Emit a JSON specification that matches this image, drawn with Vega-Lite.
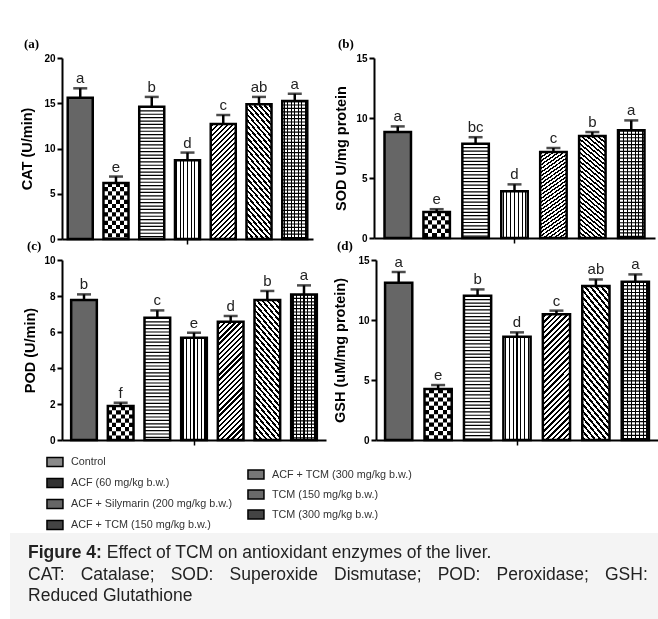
{
  "$schema": "https://vega.github.io/schema/vega-lite/v6.json",
  "padding": {"left": 10, "top": 38, "right": 0, "bottom": 0},
  "background": "#ffffff",
  "params": [
    {"name": "pV", "value": {"gradient": "linear", "x1": 0, "y1": 0, "x2": 1, "y2": 0, "stops": [
      {"offset": 0, "color": "rgba(0,0,0,0)"},
      {"offset": 0.0514, "color": "rgba(0,0,0,0)"}, {"offset": 0.0514, "color": "#000"}, {"offset": 0.0914, "color": "#000"}, {"offset": 0.0914, "color": "rgba(0,0,0,0)"},
      {"offset": 0.1943, "color": "rgba(0,0,0,0)"}, {"offset": 0.1943, "color": "#000"}, {"offset": 0.2343, "color": "#000"}, {"offset": 0.2343, "color": "rgba(0,0,0,0)"},
      {"offset": 0.3371, "color": "rgba(0,0,0,0)"}, {"offset": 0.3371, "color": "#000"}, {"offset": 0.3771, "color": "#000"}, {"offset": 0.3771, "color": "rgba(0,0,0,0)"},
      {"offset": 0.48, "color": "rgba(0,0,0,0)"}, {"offset": 0.48, "color": "#000"}, {"offset": 0.52, "color": "#000"}, {"offset": 0.52, "color": "rgba(0,0,0,0)"},
      {"offset": 0.6229, "color": "rgba(0,0,0,0)"}, {"offset": 0.6229, "color": "#000"}, {"offset": 0.6629, "color": "#000"}, {"offset": 0.6629, "color": "rgba(0,0,0,0)"},
      {"offset": 0.7657, "color": "rgba(0,0,0,0)"}, {"offset": 0.7657, "color": "#000"}, {"offset": 0.8057, "color": "#000"}, {"offset": 0.8057, "color": "rgba(0,0,0,0)"},
      {"offset": 0.9086, "color": "rgba(0,0,0,0)"}, {"offset": 0.9086, "color": "#000"}, {"offset": 0.9486, "color": "#000"}, {"offset": 0.9486, "color": "rgba(0,0,0,0)"},
      {"offset": 1, "color": "rgba(0,0,0,0)"}
    ]}},
    {"name": "pC", "value": {"gradient": "linear", "x1": 0, "y1": 0, "x2": 1, "y2": 0, "stops": [
      {"offset": 0, "color": "#fff"}, {"offset": 0.1667, "color": "#fff"}, {"offset": 0.1667, "color": "rgba(0,0,0,0)"}, {"offset": 0.3333, "color": "rgba(0,0,0,0)"},
      {"offset": 0.3333, "color": "#fff"}, {"offset": 0.5, "color": "#fff"}, {"offset": 0.5, "color": "rgba(0,0,0,0)"}, {"offset": 0.6667, "color": "rgba(0,0,0,0)"},
      {"offset": 0.6667, "color": "#fff"}, {"offset": 0.8333, "color": "#fff"}, {"offset": 0.8333, "color": "rgba(0,0,0,0)"}, {"offset": 1, "color": "rgba(0,0,0,0)"}
    ]}},
    {"name": "pD1", "value": {"gradient": "linear", "x1": 0, "y1": 0, "x2": 0.252, "y2": 1.162, "stops": [
      {"offset": 0, "color": "rgba(0,0,0,0)"},
      {"offset": 0.0128, "color": "rgba(0,0,0,0)"}, {"offset": 0.0128, "color": "#000"}, {"offset": 0.0288, "color": "#000"}, {"offset": 0.0288, "color": "rgba(0,0,0,0)"},
      {"offset": 0.0485, "color": "rgba(0,0,0,0)"}, {"offset": 0.0485, "color": "#000"}, {"offset": 0.0645, "color": "#000"}, {"offset": 0.0645, "color": "rgba(0,0,0,0)"},
      {"offset": 0.0842, "color": "rgba(0,0,0,0)"}, {"offset": 0.0842, "color": "#000"}, {"offset": 0.1002, "color": "#000"}, {"offset": 0.1002, "color": "rgba(0,0,0,0)"},
      {"offset": 0.1199, "color": "rgba(0,0,0,0)"}, {"offset": 0.1199, "color": "#000"}, {"offset": 0.1359, "color": "#000"}, {"offset": 0.1359, "color": "rgba(0,0,0,0)"},
      {"offset": 0.1557, "color": "rgba(0,0,0,0)"}, {"offset": 0.1557, "color": "#000"}, {"offset": 0.1717, "color": "#000"}, {"offset": 0.1717, "color": "rgba(0,0,0,0)"},
      {"offset": 0.1914, "color": "rgba(0,0,0,0)"}, {"offset": 0.1914, "color": "#000"}, {"offset": 0.2074, "color": "#000"}, {"offset": 0.2074, "color": "rgba(0,0,0,0)"},
      {"offset": 0.2271, "color": "rgba(0,0,0,0)"}, {"offset": 0.2271, "color": "#000"}, {"offset": 0.2431, "color": "#000"}, {"offset": 0.2431, "color": "rgba(0,0,0,0)"},
      {"offset": 0.2628, "color": "rgba(0,0,0,0)"}, {"offset": 0.2628, "color": "#000"}, {"offset": 0.2788, "color": "#000"}, {"offset": 0.2788, "color": "rgba(0,0,0,0)"},
      {"offset": 0.2985, "color": "rgba(0,0,0,0)"}, {"offset": 0.2985, "color": "#000"}, {"offset": 0.3145, "color": "#000"}, {"offset": 0.3145, "color": "rgba(0,0,0,0)"},
      {"offset": 0.3342, "color": "rgba(0,0,0,0)"}, {"offset": 0.3342, "color": "#000"}, {"offset": 0.3502, "color": "#000"}, {"offset": 0.3502, "color": "rgba(0,0,0,0)"},
      {"offset": 0.3699, "color": "rgba(0,0,0,0)"}, {"offset": 0.3699, "color": "#000"}, {"offset": 0.3859, "color": "#000"}, {"offset": 0.3859, "color": "rgba(0,0,0,0)"},
      {"offset": 0.4057, "color": "rgba(0,0,0,0)"}, {"offset": 0.4057, "color": "#000"}, {"offset": 0.4217, "color": "#000"}, {"offset": 0.4217, "color": "rgba(0,0,0,0)"},
      {"offset": 0.4414, "color": "rgba(0,0,0,0)"}, {"offset": 0.4414, "color": "#000"}, {"offset": 0.4574, "color": "#000"}, {"offset": 0.4574, "color": "rgba(0,0,0,0)"},
      {"offset": 0.4771, "color": "rgba(0,0,0,0)"}, {"offset": 0.4771, "color": "#000"}, {"offset": 0.4931, "color": "#000"}, {"offset": 0.4931, "color": "rgba(0,0,0,0)"},
      {"offset": 0.5128, "color": "rgba(0,0,0,0)"}, {"offset": 0.5128, "color": "#000"}, {"offset": 0.5288, "color": "#000"}, {"offset": 0.5288, "color": "rgba(0,0,0,0)"},
      {"offset": 0.5485, "color": "rgba(0,0,0,0)"}, {"offset": 0.5485, "color": "#000"}, {"offset": 0.5645, "color": "#000"}, {"offset": 0.5645, "color": "rgba(0,0,0,0)"},
      {"offset": 0.5842, "color": "rgba(0,0,0,0)"}, {"offset": 0.5842, "color": "#000"}, {"offset": 0.6002, "color": "#000"}, {"offset": 0.6002, "color": "rgba(0,0,0,0)"},
      {"offset": 0.6199, "color": "rgba(0,0,0,0)"}, {"offset": 0.6199, "color": "#000"}, {"offset": 0.6359, "color": "#000"}, {"offset": 0.6359, "color": "rgba(0,0,0,0)"},
      {"offset": 0.6557, "color": "rgba(0,0,0,0)"}, {"offset": 0.6557, "color": "#000"}, {"offset": 0.6717, "color": "#000"}, {"offset": 0.6717, "color": "rgba(0,0,0,0)"},
      {"offset": 0.6914, "color": "rgba(0,0,0,0)"}, {"offset": 0.6914, "color": "#000"}, {"offset": 0.7074, "color": "#000"}, {"offset": 0.7074, "color": "rgba(0,0,0,0)"},
      {"offset": 0.7271, "color": "rgba(0,0,0,0)"}, {"offset": 0.7271, "color": "#000"}, {"offset": 0.7431, "color": "#000"}, {"offset": 0.7431, "color": "rgba(0,0,0,0)"},
      {"offset": 0.7628, "color": "rgba(0,0,0,0)"}, {"offset": 0.7628, "color": "#000"}, {"offset": 0.7788, "color": "#000"}, {"offset": 0.7788, "color": "rgba(0,0,0,0)"},
      {"offset": 0.7985, "color": "rgba(0,0,0,0)"}, {"offset": 0.7985, "color": "#000"}, {"offset": 0.8145, "color": "#000"}, {"offset": 0.8145, "color": "rgba(0,0,0,0)"},
      {"offset": 0.8342, "color": "rgba(0,0,0,0)"}, {"offset": 0.8342, "color": "#000"}, {"offset": 0.8502, "color": "#000"}, {"offset": 0.8502, "color": "rgba(0,0,0,0)"},
      {"offset": 0.8699, "color": "rgba(0,0,0,0)"}, {"offset": 0.8699, "color": "#000"}, {"offset": 0.8859, "color": "#000"}, {"offset": 0.8859, "color": "rgba(0,0,0,0)"},
      {"offset": 0.9057, "color": "rgba(0,0,0,0)"}, {"offset": 0.9057, "color": "#000"}, {"offset": 0.9217, "color": "#000"}, {"offset": 0.9217, "color": "rgba(0,0,0,0)"},
      {"offset": 0.9414, "color": "rgba(0,0,0,0)"}, {"offset": 0.9414, "color": "#000"}, {"offset": 0.9574, "color": "#000"}, {"offset": 0.9574, "color": "rgba(0,0,0,0)"},
      {"offset": 0.9771, "color": "rgba(0,0,0,0)"}, {"offset": 0.9771, "color": "#000"}, {"offset": 0.9931, "color": "#000"}, {"offset": 0.9931, "color": "rgba(0,0,0,0)"},
      {"offset": 1, "color": "rgba(0,0,0,0)"}
    ]}},
    {"name": "pD2", "expr": "{gradient: 'linear', x1: 1, y1: 0, x2: 0.748, y2: 1.162, stops: pD1.stops}"}
  ],
  "datasets": {
    "main": [
      {"p": "CAT", "k": 1, "group": "Control", "mean": 15.6, "upper": 16.65, "letter": "a"},
      {"p": "CAT", "k": 2, "group": "ACF (60 mg/kg b.w.)", "mean": 6.2, "upper": 6.9, "letter": "e"},
      {"p": "CAT", "k": 3, "group": "ACF + Silymarin (200 mg/kg b.w.)", "mean": 14.6, "upper": 15.7, "letter": "b"},
      {"p": "CAT", "k": 4, "group": "ACF + TCM (150 mg/kg b.w.)", "mean": 8.7, "upper": 9.55, "letter": "d"},
      {"p": "CAT", "k": 5, "group": "ACF + TCM (300 mg/kg b.w.)", "mean": 12.7, "upper": 13.7, "letter": "c"},
      {"p": "CAT", "k": 6, "group": "TCM (150 mg/kg b.w.)", "mean": 14.9, "upper": 15.7, "letter": "ab"},
      {"p": "CAT", "k": 7, "group": "TCM (300 mg/kg b.w.)", "mean": 15.25, "upper": 16.05, "letter": "a"},
      {"p": "SOD", "k": 1, "group": "Control", "mean": 8.83, "upper": 9.3, "letter": "a"},
      {"p": "SOD", "k": 2, "group": "ACF (60 mg/kg b.w.)", "mean": 2.17, "upper": 2.4, "letter": "e"},
      {"p": "SOD", "k": 3, "group": "ACF + Silymarin (200 mg/kg b.w.)", "mean": 7.86, "upper": 8.4, "letter": "bc"},
      {"p": "SOD", "k": 4, "group": "ACF + TCM (150 mg/kg b.w.)", "mean": 3.9, "upper": 4.47, "letter": "d"},
      {"p": "SOD", "k": 5, "group": "ACF + TCM (300 mg/kg b.w.)", "mean": 7.17, "upper": 7.5, "letter": "c"},
      {"p": "SOD", "k": 6, "group": "TCM (150 mg/kg b.w.)", "mean": 8.5, "upper": 8.83, "letter": "b"},
      {"p": "SOD", "k": 7, "group": "TCM (300 mg/kg b.w.)", "mean": 8.97, "upper": 9.8, "letter": "a"},
      {"p": "POD", "k": 1, "group": "Control", "mean": 7.78, "upper": 8.09, "letter": "b"},
      {"p": "POD", "k": 2, "group": "ACF (60 mg/kg b.w.)", "mean": 1.89, "upper": 2.07, "letter": "f"},
      {"p": "POD", "k": 3, "group": "ACF + Silymarin (200 mg/kg b.w.)", "mean": 6.79, "upper": 7.2, "letter": "c"},
      {"p": "POD", "k": 4, "group": "ACF + TCM (150 mg/kg b.w.)", "mean": 5.68, "upper": 5.96, "letter": "e"},
      {"p": "POD", "k": 5, "group": "ACF + TCM (300 mg/kg b.w.)", "mean": 6.57, "upper": 6.89, "letter": "d"},
      {"p": "POD", "k": 6, "group": "TCM (150 mg/kg b.w.)", "mean": 7.78, "upper": 8.28, "letter": "b"},
      {"p": "POD", "k": 7, "group": "TCM (300 mg/kg b.w.)", "mean": 8.09, "upper": 8.59, "letter": "a"},
      {"p": "GSH", "k": 1, "group": "Control", "mean": 13.1, "upper": 14.0, "letter": "a"},
      {"p": "GSH", "k": 2, "group": "ACF (60 mg/kg b.w.)", "mean": 4.25, "upper": 4.58, "letter": "e"},
      {"p": "GSH", "k": 3, "group": "ACF + Silymarin (200 mg/kg b.w.)", "mean": 12.03, "upper": 12.55, "letter": "b"},
      {"p": "GSH", "k": 4, "group": "ACF + TCM (150 mg/kg b.w.)", "mean": 8.6, "upper": 8.97, "letter": "d"},
      {"p": "GSH", "k": 5, "group": "ACF + TCM (300 mg/kg b.w.)", "mean": 10.47, "upper": 10.78, "letter": "c"},
      {"p": "GSH", "k": 6, "group": "TCM (150 mg/kg b.w.)", "mean": 12.83, "upper": 13.38, "letter": "ab"},
      {"p": "GSH", "k": 7, "group": "TCM (300 mg/kg b.w.)", "mean": 13.19, "upper": 13.8, "letter": "a"}
    ],
    "groups": [
      {"k": 1, "col": 1, "group": "Control"},
      {"k": 2, "col": 1, "group": "ACF (60 mg/kg b.w.)"},
      {"k": 3, "col": 1, "group": "ACF + Silymarin (200 mg/kg b.w.)"},
      {"k": 4, "col": 1, "group": "ACF + TCM (150 mg/kg b.w.)"},
      {"k": 5, "col": 2, "group": "ACF + TCM (300 mg/kg b.w.)"},
      {"k": 6, "col": 2, "group": "TCM (150 mg/kg b.w.)"},
      {"k": 7, "col": 2, "group": "TCM (300 mg/kg b.w.)"}
    ],
    "caption": [
      {"line": 1, "bold": true, "text": "Figure 4:"},
      {"line": 1, "bold": false, "text": "Effect of TCM on antioxidant enzymes of the liver."},
      {"line": 2, "bold": false, "text": "CAT: \u00a0\u00a0\u200aCatalase; \u00a0\u00a0\u200aSOD: \u00a0\u00a0\u200aSuperoxide \u00a0\u00a0\u200aDismutase; \u00a0\u00a0\u200aPOD: \u00a0\u00a0\u200aPeroxidase; \u00a0\u00a0\u200aGSH:"},
      {"line": 3, "bold": false, "text": "Reduced Glutathione"}
    ]
  },
  "spacing": 0,
  "vconcat": [
    {
      "spacing": -13,
      "vconcat": [
        {
          "spacing": 20,
          "hconcat": [
            {
              "width": 251, "height": 181,
              "title": {"text": "(a)"},
              "data": {"name": "main"},
              "transform": [{"filter": "datum.p === 'CAT'"}],
              "encoding": {
                "x": {"field": "group", "type": "nominal", "sort": null, "scale": {"paddingInner": 0.3, "paddingOuter": 0.16}, "axis": {"values": ["ACF + TCM (150 mg/kg b.w.)"], "labels": false, "title": null, "tickWidth": 1.5}},
                "y": {"field": "mean", "type": "quantitative", "scale": {"domain": [0, 20], "nice": false}, "axis": {"values": [0, 5, 10, 15, 20], "title": "CAT (U/min)", "titlePadding": 9}}
              },
              "layer": [
                {"mark": {"type": "bar", "strokeWidth": 0}, "encoding": {"fill": {"field": "k", "type": "nominal", "scale": {"domain": [1, 2, 3, 4, 5, 6, 7], "range": ["#666666", "#ffffff", "#ffffff", "#ffffff", "#ffffff", "#ffffff", "#ffffff"]}, "legend": null}}},
                {"transform": [{"filter": "datum.k === 3 || datum.k === 7"}], "mark": {"type": "rule", "strokeWidth": 25, "strokeDash": [1.2, 2.2], "color": "#000"}, "encoding": {"y2": {"datum": 0}}},
                {"transform": [{"filter": "datum.k === 2"}], "mark": {"type": "rule", "strokeWidth": 25, "strokeDash": [4.2, 4.2], "color": "#000"}, "encoding": {"y2": {"datum": 0}}},
                {"transform": [{"filter": "datum.k === 2"}], "mark": {"type": "bar", "strokeWidth": 0, "fill": {"expr": "pC"}, "blend": "difference"}},
                {"transform": [{"filter": "datum.k === 4 || datum.k === 7"}], "mark": {"type": "bar", "strokeWidth": 0, "fill": {"expr": "pV"}}},
                {"transform": [{"filter": "datum.k === 5"}], "mark": {"type": "bar", "strokeWidth": 0, "fill": {"expr": "pD1"}}},
                {"transform": [{"filter": "datum.k === 6"}], "mark": {"type": "bar", "strokeWidth": 0, "fill": {"expr": "pD2"}}},
                {"mark": {"type": "bar", "fillOpacity": 0, "stroke": "#000", "strokeWidth": 2.5}},
                {"mark": {"type": "rule", "strokeWidth": 2.5, "color": "#000"}, "encoding": {"y2": {"field": "upper"}}},
                {"mark": {"type": "tick", "thickness": 2.5, "size": 14, "color": "#000"}, "encoding": {"y": {"field": "upper", "type": "quantitative", "axis": {"values": [0, 5, 10, 15, 20], "title": "CAT (U/min)", "titlePadding": 9}}}},
                {"mark": {"type": "text", "dy": -5, "baseline": "alphabetic", "fontSize": 15, "color": "#222"}, "encoding": {"y": {"field": "upper", "type": "quantitative", "axis": {"values": [0, 5, 10, 15, 20], "title": "CAT (U/min)", "titlePadding": 9}}, "text": {"field": "letter"}}}
              ]
            },
            {
              "width": 281, "height": 180,
              "title": {"text": "(b)"},
              "data": {"name": "main"},
              "transform": [{"filter": "datum.p === 'SOD'"}],
              "encoding": {
                "x": {"field": "group", "type": "nominal", "sort": null, "scale": {"paddingInner": 0.32, "paddingOuter": 0.27}, "axis": {"values": ["ACF + TCM (150 mg/kg b.w.)"], "labels": false, "title": null, "tickWidth": 1.5}},
                "y": {"field": "mean", "type": "quantitative", "scale": {"domain": [0, 15], "nice": false}, "axis": {"values": [0, 5, 10, 15], "title": "SOD U/mg protein", "titlePadding": 7}}
              },
              "layer": [
                {"mark": {"type": "bar", "strokeWidth": 0}, "encoding": {"fill": {"field": "k", "type": "nominal", "scale": {"domain": [1, 2, 3, 4, 5, 6, 7], "range": ["#666666", "#ffffff", "#ffffff", "#ffffff", "#ffffff", "#ffffff", "#ffffff"]}, "legend": null}}},
                {"transform": [{"filter": "datum.k === 3 || datum.k === 7"}], "mark": {"type": "rule", "strokeWidth": 26.5, "strokeDash": [1.2, 2.2], "color": "#000"}, "encoding": {"y2": {"datum": 0}}},
                {"transform": [{"filter": "datum.k === 2"}], "mark": {"type": "rule", "strokeWidth": 26.5, "strokeDash": [4.2, 4.2], "color": "#000"}, "encoding": {"y2": {"datum": 0}}},
                {"transform": [{"filter": "datum.k === 2"}], "mark": {"type": "bar", "strokeWidth": 0, "fill": {"expr": "pC"}, "blend": "difference"}},
                {"transform": [{"filter": "datum.k === 4 || datum.k === 7"}], "mark": {"type": "bar", "strokeWidth": 0, "fill": {"expr": "pV"}}},
                {"transform": [{"filter": "datum.k === 5"}], "mark": {"type": "bar", "strokeWidth": 0, "fill": {"expr": "pD1"}}},
                {"transform": [{"filter": "datum.k === 6"}], "mark": {"type": "bar", "strokeWidth": 0, "fill": {"expr": "pD2"}}},
                {"mark": {"type": "bar", "fillOpacity": 0, "stroke": "#000", "strokeWidth": 2.5}},
                {"mark": {"type": "rule", "strokeWidth": 2.5, "color": "#000"}, "encoding": {"y2": {"field": "upper"}}},
                {"mark": {"type": "tick", "thickness": 2.5, "size": 14, "color": "#000"}, "encoding": {"y": {"field": "upper", "type": "quantitative", "axis": {"values": [0, 5, 10, 15], "title": "SOD U/mg protein", "titlePadding": 7}}}},
                {"mark": {"type": "text", "dy": -5, "baseline": "alphabetic", "fontSize": 15, "color": "#222"}, "encoding": {"y": {"field": "upper", "type": "quantitative", "axis": {"values": [0, 5, 10, 15], "title": "SOD U/mg protein", "titlePadding": 7}}, "text": {"field": "letter"}}}
              ]
            }
          ]
        },
        {
          "spacing": 6,
          "hconcat": [
            {
              "width": 264, "height": 180,
              "title": {"text": "(c)"},
              "data": {"name": "main"},
              "transform": [{"filter": "datum.p === 'POD'"}],
              "encoding": {
                "x": {"field": "group", "type": "nominal", "sort": null, "scale": {"paddingInner": 0.3, "paddingOuter": 0.25}, "axis": {"values": ["ACF + TCM (150 mg/kg b.w.)"], "labels": false, "title": null, "tickWidth": 1.5}},
                "y": {"field": "mean", "type": "quantitative", "scale": {"domain": [0, 10], "nice": false}, "axis": {"values": [0, 2, 4, 6, 8, 10], "title": "POD (U/min)", "titlePadding": 6}}
              },
              "layer": [
                {"mark": {"type": "bar", "strokeWidth": 0}, "encoding": {"fill": {"field": "k", "type": "nominal", "scale": {"domain": [1, 2, 3, 4, 5, 6, 7], "range": ["#666666", "#ffffff", "#ffffff", "#ffffff", "#ffffff", "#ffffff", "#ffffff"]}, "legend": null}}},
                {"transform": [{"filter": "datum.k === 3 || datum.k === 7"}], "mark": {"type": "rule", "strokeWidth": 25.7, "strokeDash": [1.2, 2.2], "color": "#000"}, "encoding": {"y2": {"datum": 0}}},
                {"transform": [{"filter": "datum.k === 2"}], "mark": {"type": "rule", "strokeWidth": 25.7, "strokeDash": [4.2, 4.2], "color": "#000"}, "encoding": {"y2": {"datum": 0}}},
                {"transform": [{"filter": "datum.k === 2"}], "mark": {"type": "bar", "strokeWidth": 0, "fill": {"expr": "pC"}, "blend": "difference"}},
                {"transform": [{"filter": "datum.k === 4 || datum.k === 7"}], "mark": {"type": "bar", "strokeWidth": 0, "fill": {"expr": "pV"}}},
                {"transform": [{"filter": "datum.k === 5"}], "mark": {"type": "bar", "strokeWidth": 0, "fill": {"expr": "pD1"}}},
                {"transform": [{"filter": "datum.k === 6"}], "mark": {"type": "bar", "strokeWidth": 0, "fill": {"expr": "pD2"}}},
                {"mark": {"type": "bar", "fillOpacity": 0, "stroke": "#000", "strokeWidth": 2.5}},
                {"mark": {"type": "rule", "strokeWidth": 2.5, "color": "#000"}, "encoding": {"y2": {"field": "upper"}}},
                {"mark": {"type": "tick", "thickness": 2.5, "size": 14, "color": "#000"}, "encoding": {"y": {"field": "upper", "type": "quantitative", "axis": {"values": [0, 2, 4, 6, 8, 10], "title": "POD (U/min)", "titlePadding": 6}}}},
                {"mark": {"type": "text", "dy": -5, "baseline": "alphabetic", "fontSize": 15, "color": "#222"}, "encoding": {"y": {"field": "upper", "type": "quantitative", "axis": {"values": [0, 2, 4, 6, 8, 10], "title": "POD (U/min)", "titlePadding": 6}}, "text": {"field": "letter"}}}
              ]
            },
            {
              "width": 282, "height": 180,
              "title": {"text": "(d)"},
              "data": {"name": "main"},
              "transform": [{"filter": "datum.p === 'GSH'"}],
              "encoding": {
                "x": {"field": "group", "type": "nominal", "sort": null, "scale": {"paddingInner": 0.31, "paddingOuter": 0.23}, "axis": {"values": ["ACF + TCM (150 mg/kg b.w.)"], "labels": false, "title": null, "tickWidth": 1.5}},
                "y": {"field": "mean", "type": "quantitative", "scale": {"domain": [0, 15], "nice": false}, "axis": {"values": [0, 5, 10, 15], "title": "GSH (uM/mg protein)", "titlePadding": 10}}
              },
              "layer": [
                {"mark": {"type": "bar", "strokeWidth": 0}, "encoding": {"fill": {"field": "k", "type": "nominal", "scale": {"domain": [1, 2, 3, 4, 5, 6, 7], "range": ["#666666", "#ffffff", "#ffffff", "#ffffff", "#ffffff", "#ffffff", "#ffffff"]}, "legend": null}}},
                {"transform": [{"filter": "datum.k === 3 || datum.k === 7"}], "mark": {"type": "rule", "strokeWidth": 27.2, "strokeDash": [1.2, 2.2], "color": "#000"}, "encoding": {"y2": {"datum": 0}}},
                {"transform": [{"filter": "datum.k === 2"}], "mark": {"type": "rule", "strokeWidth": 27.2, "strokeDash": [4.2, 4.2], "color": "#000"}, "encoding": {"y2": {"datum": 0}}},
                {"transform": [{"filter": "datum.k === 2"}], "mark": {"type": "bar", "strokeWidth": 0, "fill": {"expr": "pC"}, "blend": "difference"}},
                {"transform": [{"filter": "datum.k === 4 || datum.k === 7"}], "mark": {"type": "bar", "strokeWidth": 0, "fill": {"expr": "pV"}}},
                {"transform": [{"filter": "datum.k === 5"}], "mark": {"type": "bar", "strokeWidth": 0, "fill": {"expr": "pD1"}}},
                {"transform": [{"filter": "datum.k === 6"}], "mark": {"type": "bar", "strokeWidth": 0, "fill": {"expr": "pD2"}}},
                {"mark": {"type": "bar", "fillOpacity": 0, "stroke": "#000", "strokeWidth": 2.5}},
                {"mark": {"type": "rule", "strokeWidth": 2.5, "color": "#000"}, "encoding": {"y2": {"field": "upper"}}},
                {"mark": {"type": "tick", "thickness": 2.5, "size": 14, "color": "#000"}, "encoding": {"y": {"field": "upper", "type": "quantitative", "axis": {"values": [0, 5, 10, 15], "title": "GSH (uM/mg protein)", "titlePadding": 10}}}},
                {"mark": {"type": "text", "dy": -5, "baseline": "alphabetic", "fontSize": 15, "color": "#222"}, "encoding": {"y": {"field": "upper", "type": "quantitative", "axis": {"values": [0, 5, 10, 15], "title": "GSH (uM/mg protein)", "titlePadding": 10}}, "text": {"field": "letter"}}}
              ]
            }
          ]
        }
      ]
    },
    {
      "width": 201, "height": 73,
      "data": {"name": "groups"},
      "encoding": {"x": {"field": "col", "type": "quantitative", "scale": {"domain": [1.035, 2.035]}, "axis": null}},
      "layer": [
        {
          "transform": [{"filter": "datum.col === 1"}],
          "encoding": {"y": {"field": "group", "type": "nominal", "sort": null, "scale": {"type": "point", "padding": 0.238, "align": 0.4}, "axis": null}},
          "layer": [
            {"mark": {"type": "point", "shape": "M-1,-0.56H1V0.56H-1Z", "size": 256, "filled": true, "opacity": 1, "stroke": "#000", "strokeWidth": 1.5}, "encoding": {"color": {"field": "k", "type": "nominal", "scale": {"domain": [1, 2, 3, 4, 5, 6, 7], "range": ["#8a8a8a", "#333333", "#666666", "#444444", "#777777", "#6a6a6a", "#444444"]}, "legend": null}}},
            {"mark": {"type": "text", "align": "left", "dx": 16, "fontSize": 10.8, "color": "#333"}, "encoding": {"text": {"field": "group"}}}
          ]
        },
        {
          "transform": [{"filter": "datum.col === 2"}],
          "encoding": {"y": {"field": "group", "type": "nominal", "sort": null, "scale": {"type": "point", "padding": 0.825, "align": 0.5}, "axis": null}},
          "layer": [
            {"mark": {"type": "point", "shape": "M-1,-0.56H1V0.56H-1Z", "size": 256, "filled": true, "opacity": 1, "stroke": "#000", "strokeWidth": 1.5}, "encoding": {"color": {"field": "k", "type": "nominal", "scale": {"domain": [1, 2, 3, 4, 5, 6, 7], "range": ["#8a8a8a", "#333333", "#666666", "#444444", "#777777", "#6a6a6a", "#444444"]}, "legend": null}}},
            {"mark": {"type": "text", "align": "left", "dx": 16, "fontSize": 10.8, "color": "#333"}, "encoding": {"text": {"field": "group"}}}
          ]
        }
      ],
      "resolve": {"scale": {"y": "independent"}}
    },
    {
      "width": 596, "height": 86,
      "data": {"name": "caption"},
      "layer": [
        {"transform": [{"filter": "datum.bold"}], "mark": {"type": "rect", "color": "#f4f4f4"}, "encoding": {"x": {"datum": -0.0872, "type": "quantitative", "scale": {"domain": [0, 1]}, "axis": null}, "x2": {"datum": 1}}},
        {"transform": [{"filter": "datum.bold"}], "mark": {"type": "text", "align": "left", "fontSize": 17.5, "fontWeight": "bold", "color": "#222"},
         "encoding": {"x": {"datum": -0.057, "type": "quantitative"}, "y": {"field": "line", "type": "ordinal", "scale": {"type": "point", "padding": 1.048, "align": 0.466}, "axis": null}, "text": {"field": "text"}}},
        {"transform": [{"filter": "!datum.bold && datum.line === 1"}], "mark": {"type": "text", "align": "left", "dx": 78.8, "fontSize": 17.5, "color": "#222"},
         "encoding": {"x": {"datum": -0.057, "type": "quantitative"}, "y": {"field": "line", "type": "ordinal"}, "text": {"field": "text"}}},
        {"transform": [{"filter": "datum.line > 1"}], "mark": {"type": "text", "align": "left", "fontSize": 17.5, "color": "#222"},
         "encoding": {"x": {"datum": -0.057, "type": "quantitative"}, "y": {"field": "line", "type": "ordinal"}, "text": {"field": "text"}}}
      ]
    }
  ],
  "config": {
    "font": "Liberation Sans",
    "view": {"stroke": null},
    "axis": {"grid": false, "domainColor": "#000", "domainWidth": 2, "tickColor": "#000", "tickWidth": 2, "tickSize": 5, "labelFont": "Liberation Sans", "labelFontSize": 10, "labelFontWeight": "bold", "labelColor": "#000", "labelPadding": 2, "titleFont": "Liberation Sans", "titleFontSize": 14.5, "titleFontWeight": "bold", "titleColor": "#000"},
    "title": {"font": "Liberation Serif", "fontSize": 13, "fontWeight": "bold", "color": "#000", "anchor": "start", "frame": "bounds", "offset": 2, "dx": 4}
  }
}
